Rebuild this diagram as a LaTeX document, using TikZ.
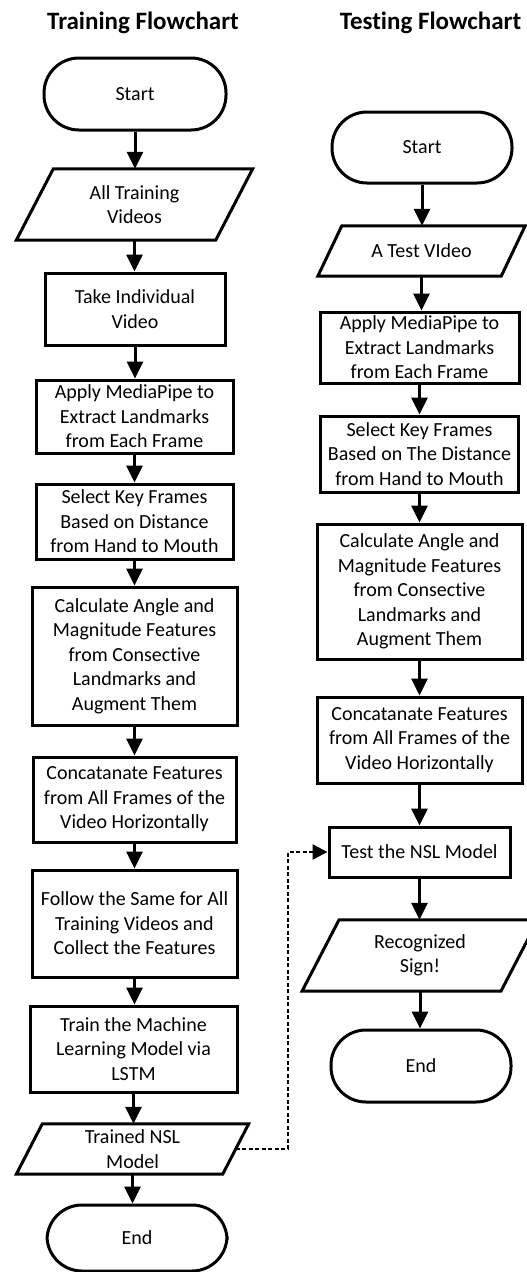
\documentclass[tikz,border=0pt]{standalone}
\usepackage{fontspec}
\setmainfont{Carlito}[Ligatures={NoCommon,NoRare}]
\usetikzlibrary{arrows.meta}
\begin{document}
\begin{tikzpicture}[x=1pt,y=-1pt,
  txt/.style={font=\fontsize{20}{24.5}\selectfont, align=center, inner sep=0pt},
  dims/.style 2 args={minimum width=#1pt, minimum height=#2pt},
  procbox/.style={txt, draw, line width=3pt, line join=miter},
  termbox/.style={txt, draw, line width=3pt, rounded corners=35pt},
  iobox/.style={txt},
  outline/.style={draw, line width=3pt, line join=miter},
  flow/.style={line width=3pt, -{Triangle[width=16pt,length=17pt]}},
  link/.style={line width=2.5pt, dash pattern=on 4pt off 2.5pt, -{Triangle[width=15pt,length=15pt]}},
  heading/.style={font=\fontsize{25}{30}\selectfont\bfseries}]

\useasboundingbox (0,0) rectangle (527,1272);

% headings
\node[heading] (hTrain) at (143,23) {Training Flowchart};
\node[heading] (hTest) at (430.5,23) {Testing Flowchart};

% training column
\node[termbox, dims={182}{72}] (lStart) at (135,94) {Start};
\node[iobox, dims={199}{71}] (lVids) at (134.5,204.5) {All Training\\Videos};
\node[procbox, dims={180}{72}] (lTake) at (135,309) {Take Individual\\Video};
\node[procbox, dims={197}{73}] (lApply) at (134.5,416.5) {Apply MediaPipe to\\Extract Landmarks\\from Each Frame};
\node[procbox, dims={197}{75}] (lSelect) at (134.5,521.5) {Select Key Frames\\Based on Distance\\from Hand to Mouth};
\node[procbox, dims={205}{138}] (lCalc) at (134.5,656) {Calculate Angle and\\Magnitude Features\\from Consective\\Landmarks and\\Augment Them};
\node[procbox, dims={203}{85}] (lConcat) at (134.5,799.5) {Concatanate Features\\from All Frames of the\\Video Horizontally};
\node[procbox, dims={205}{107}] (lFollow) at (134.5,923.5) {Follow the Same for All\\Training Videos and\\Collect the Features};
\node[procbox, dims={207}{86}] (lTrain) at (133.5,1049) {Train the Machine\\Learning Model via\\LSTM};
\node[iobox, dims={206}{50}] (lModel) at (132.5,1149) {Trained NSL\\Model};
\node[termbox, dims={180}{66}] (lEnd) at (137,1238) {End};

% testing column
\node[termbox, dims={180}{71}] (rStart) at (422,147.5) {Start};
\node[iobox, dims={183}{50}] (rVid) at (421.5,251) {A Test VIdeo};
\node[procbox, dims={199}{71}] (rApply) at (419.5,347.5) {Apply MediaPipe to\\Extract Landmarks\\from Each Frame};
\node[procbox, dims={198}{76}] (rSelect) at (419.5,454) {Select Key Frames\\Based on The Distance\\from Hand to Mouth};
\node[procbox, dims={205}{135}] (rCalc) at (419.5,591.5) {Calculate Angle and\\Magnitude Features\\from Consective\\Landmarks and\\Augment Them};
\node[procbox, dims={205}{86}] (rConcat) at (419.5,740) {Concatanate Features\\from All Frames of the\\Video Horizontally};
\node[procbox, dims={181}{50}] (rTest) at (419.5,852) {Test the NSL Model};
\node[iobox, dims={198.5}{71}] (rSign) at (420,955.5) {Recognized\\Sign!};
\node[termbox, dims={180}{72}] (rEnd) at (421,1066) {End};

% input/output parallelograms around their text nodes
\foreach \n/\s in {lVids/18.5, lModel/13, rVid/12, rSign/18.5}
  \draw[outline] ([xshift=\s pt]\n.north west) -- ([xshift=\s pt]\n.north east)
    -- ([xshift=-\s pt]\n.south east) -- ([xshift=-\s pt]\n.south west) -- cycle;

% flow connectors
\foreach \a/\b in {lStart/lVids, lVids/lTake, lTake/lApply, lApply/lSelect,
    lSelect/lCalc, lCalc/lConcat, lConcat/lFollow, lFollow/lTrain,
    lTrain/lModel, lModel/lEnd,
    rStart/rVid, rVid/rApply, rApply/rSelect, rSelect/rCalc,
    rCalc/rConcat, rConcat/rTest, rTest/rSign, rSign/rEnd}
  \draw[flow] (\a.south) -- (\a.south |- \b.north);

% trained model handed to the testing stage
\coordinate (dv) at (288,0);
\draw[link] (lModel.east) -- (lModel.east -| dv) |- (rTest.west);
\end{tikzpicture}
\end{document}
